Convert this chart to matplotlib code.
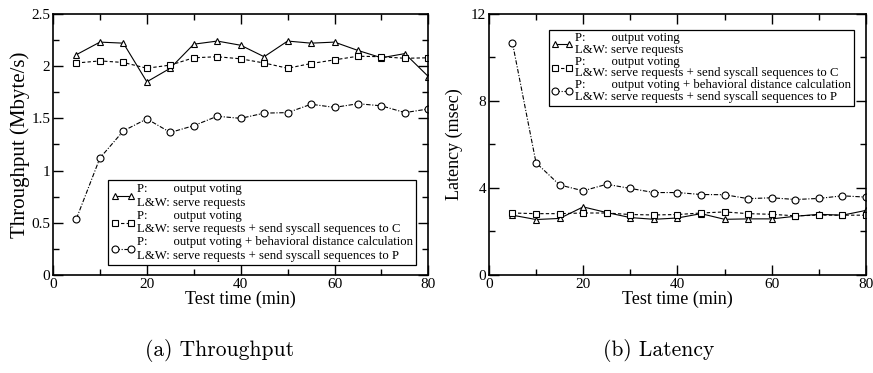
import matplotlib as mpl
import matplotlib.pyplot as plt
from matplotlib.ticker import MultipleLocator

# data
test_time = [5, 10, 15, 20, 25, 30, 35, 40, 45, 50, 55, 60, 65, 70, 75, 80]

thr_vote = [2.11, 2.23, 2.22, 1.85, 1.98, 2.21, 2.24, 2.20, 2.09, 2.24, 2.22, 2.23, 2.15, 2.08, 2.12, 1.90]
thr_send_c = [2.03, 2.05, 2.035, 1.98, 2.01, 2.08, 2.09, 2.07, 2.03, 1.98, 2.025, 2.06, 2.095, 2.09, 2.075, 2.08]
thr_send_p = [0.54, 1.12, 1.38, 1.495, 1.365, 1.43, 1.52, 1.50, 1.55, 1.555, 1.635, 1.605, 1.64, 1.62, 1.555, 1.59]

lat_vote = [2.75, 2.55, 2.60, 3.13, 2.87, 2.64, 2.56, 2.62, 2.82, 2.56, 2.58, 2.58, 2.70, 2.79, 2.75, 2.97]
lat_send_c = [2.85, 2.82, 2.82, 2.85, 2.85, 2.78, 2.76, 2.78, 2.85, 2.90, 2.82, 2.79, 2.72, 2.75, 2.75, 2.75]
lat_send_p = [10.67, 5.16, 4.14, 3.87, 4.17, 3.98, 3.79, 3.79, 3.70, 3.69, 3.51, 3.55, 3.47, 3.52, 3.64, 3.58]

labels = [
    "P:        output voting\nL&W: serve requests",
    "P:        output voting\nL&W: serve requests + send syscall sequences to C",
    "P:        output voting + behavioral distance calculation\nL&W: serve requests + send syscall sequences to P",
]

STYLES = [
    dict(marker="^", linestyle="-"),
    dict(marker="s", linestyle=(0, (3, 2))),
    dict(marker="o", linestyle=(0, (4, 1.5, 1, 1.5))),
]

mpl.rcParams["font.family"] = ["Liberation Serif", "DejaVu Serif"]


def fill_ax(ax, series, ylim, ymajor, yminor):
    for vals, style, label in zip(series, STYLES, labels):
        ax.plot(
            test_time, vals, color="black", linewidth=0.8, markersize=5,
            markerfacecolor="white", markeredgecolor="black", markeredgewidth=0.8,
            label=label, **style,
        )
    ax.set_xlim(0, 80)
    ax.set_ylim(*ylim)
    ax.xaxis.set_major_locator(MultipleLocator(20))
    ax.xaxis.set_minor_locator(MultipleLocator(10))
    ax.yaxis.set_major_locator(MultipleLocator(ymajor))
    ax.yaxis.set_minor_locator(MultipleLocator(yminor))
    ax.tick_params(which="both", direction="in", top=True, right=True, labelsize=11, width=1)
    ax.tick_params(which="major", length=7, pad=2)
    ax.tick_params(which="minor", length=4)
    for sp in ax.spines.values():
        sp.set_linewidth(1.2)
    ax.set_xlabel("Test time (min)", fontsize=13, labelpad=0)


fig = plt.figure(figsize=(8.73, 3.73), dpi=100)
ax_a = fig.add_axes([0.0607, 0.2627, 0.430, 0.70])
ax_b = fig.add_axes([0.560, 0.2627, 0.432, 0.70])

fill_ax(ax_a, [thr_vote, thr_send_c, thr_send_p], (0, 2.5), 0.5, 0.25)
ax_a.set_yticks([0, 0.5, 1, 1.5, 2, 2.5], ["0", "0.5", "1", "1.5", "2", "2.5"])
ax_a.set_ylabel("Throughput (Mbyte/s)", fontsize=15, labelpad=1)

fill_ax(ax_b, [lat_vote, lat_send_c, lat_send_p], (0, 12), 4, 2)
ax_b.set_ylabel("Latency (msec)", fontsize=13, labelpad=6)

leg_kw = dict(
    fontsize=9.2, frameon=True, fancybox=False, edgecolor="black", framealpha=1,
    handlelength=1.8, handletextpad=0.2, labelspacing=0.05, borderpad=0.25,
    borderaxespad=0, numpoints=2,
)
leg_a = ax_a.legend(loc="lower right", bbox_to_anchor=(0.968, 0.038), **leg_kw)
leg_b = ax_b.legend(loc="upper right", bbox_to_anchor=(0.968, 0.939),
                    **{**leg_kw, "labelspacing": 0.0, "borderpad": 0.2, "handlelength": 1.7})
for leg in (leg_a, leg_b):
    leg.get_frame().set_linewidth(0.9)
for t in leg_b.get_texts():
    t.set_linespacing(0.95)

fig.text(0.252, 0.06, "(a) Throughput", ha="center", va="center", fontsize=15.5, family="cmr10")
fig.text(0.754, 0.06, "(b) Latency", ha="center", va="center", fontsize=15.5, family="cmr10")

fig.savefig("out.png", dpi=100)
